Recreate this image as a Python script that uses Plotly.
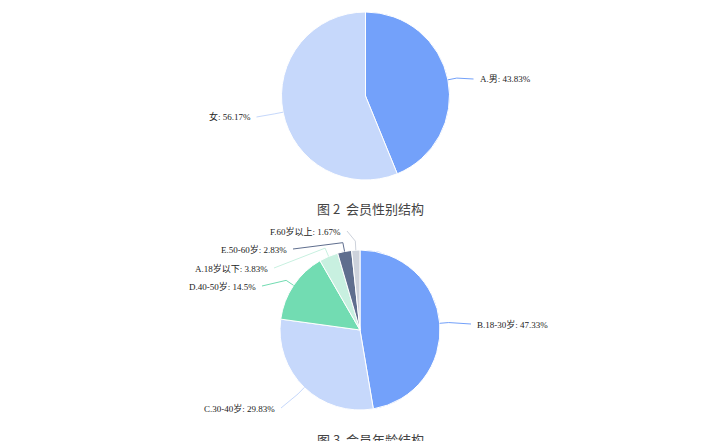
import math
import plotly.graph_objects as go

W, H = 713, 441
OFF = 8  # page body margin in the browser

# 图2 会员性别结构
gender_labels = ["A.男", "女"]
gender_values = [43.83, 56.17]
gender_colors = ["#73a1fa", "#c6d8fb"]

# 图3 会员年龄结构 (clockwise from 12 o'clock)
age_labels = ["B.18-30岁", "C.30-40岁", "D.40-50岁", "A.18岁以下", "E.50-60岁", "F.60岁以上"]
age_values = [47.33, 29.83, 14.5, 3.83, 2.83, 1.67]
age_colors = ["#73a1fa", "#c6d8fb", "#72dcb2", "#c8f0e0", "#5f6e8e", "#cdd2db"]

captions = ["图 2  会员性别结构", "图 3  会员年龄结构"]

# pie geometry in screen pixels: centre x, centre y, radius
pies = [
    dict(cx=365.5, cy=96, r=84, labels=gender_labels, values=gender_values, colors=gender_colors,
         # label anchor offsets from the centre (px)
         tpos=[(112, -17), (-113, 21)]),
    dict(cx=360, cy=330, r=80, labels=age_labels, values=age_values, colors=age_colors,
         tpos=[(115, -6), (-83, 78), (-102, -44), (-90, -62), (-71, -81), (-17, -99)]),
]


def px(x, y):
    return (x - OFF) / W, 1 - (y - OFF) / H


fig = go.Figure()
shapes = []
annotations = []

for p in pies:
    cx, cy, r = p["cx"], p["cy"], p["r"]
    x0, y1 = px(cx - r, cy - r)
    x1, y0 = px(cx + r, cy + r)
    fig.add_trace(go.Pie(
        labels=p["labels"], values=p["values"],
        marker=dict(colors=p["colors"], line=dict(color="white", width=1)),
        sort=False, direction="clockwise", rotation=0,
        textinfo="none", hoverinfo="label+percent", showlegend=False,
        domain=dict(x=[x0, x1], y=[y0, y1]),
    ))

    total = sum(p["values"])
    start = 0
    for lab, v, col, (dx, dy) in zip(p["labels"], p["values"], p["colors"], p["tpos"]):
        mid = math.radians((start + v / 2) / total * 360)
        start += v
        ex, ey = cx + r * math.sin(mid), cy - r * math.cos(mid)
        kx, ky = cx + (r + 9) * math.sin(mid), cy - (r + 9) * math.cos(mid)
        tx, ty = cx + dx, cy + dy
        right = dx > 0
        lx = tx - 4 if right else tx + 4
        pts = [px(ex, ey), px(kx, ky), px(lx, ty)]
        path = "M {} {} L {} {} L {} {}".format(*[c for pt in pts for c in pt])
        shapes.append(dict(type="path", xref="paper", yref="paper", path=path,
                           line=dict(color=col, width=1)))
        ax_, ay_ = px(tx, ty)
        annotations.append(dict(
            x=ax_, y=ay_, xref="paper", yref="paper", showarrow=False,
            text=f"{lab}: {v:g}%", xanchor="left" if right else "right", yanchor="middle",
            font=dict(family="Liberation Serif, Noto Sans CJK SC", size=9, color="#222"),
        ))

for cap, cy in zip(captions, [208, 439]):
    x, y = px(371, cy)
    annotations.append(dict(
        x=x, y=y, xref="paper", yref="paper", showarrow=False, text=cap,
        xanchor="center", yanchor="middle",
        font=dict(family="Noto Sans CJK SC", size=13, color="#444"),
    ))

fig.update_layout(
    width=W, height=H,
    margin=dict(l=0, r=0, t=0, b=0),
    paper_bgcolor="white", plot_bgcolor="white",
    shapes=shapes, annotations=annotations,
)

fig.write_html("out.html")
